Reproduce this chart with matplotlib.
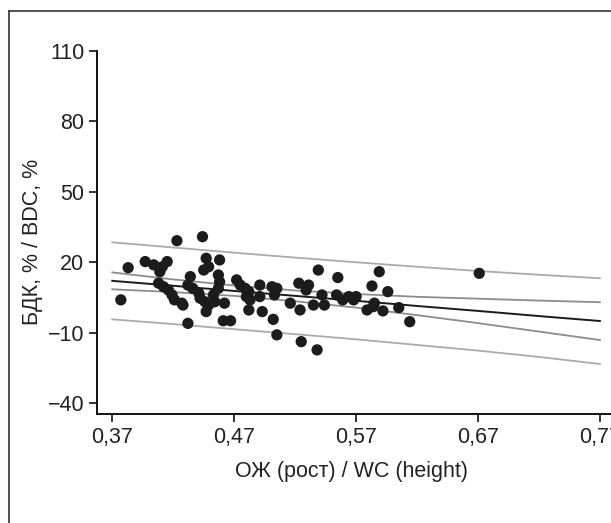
import matplotlib
matplotlib.use('Agg')
import matplotlib.pyplot as plt
from matplotlib.lines import Line2D

plt.rcParams['font.family'] = ['Liberation Sans', 'DejaVu Sans']

# scatter points
wc = [0.423, 0.444, 0.383, 0.377,
      0.397, 0.404, 0.411, 0.415, 0.409,
      0.408, 0.412, 0.416, 0.419, 0.421, 0.427, 0.428,
      0.434,
      0.432, 0.436, 0.441, 0.442, 0.446, 0.449, 0.447,
      0.447, 0.449, 0.445,
      0.458,
      0.457, 0.458, 0.457,
      0.453, 0.454, 0.462,
      0.432, 0.461, 0.467,
      0.472, 0.475, 0.479, 0.482, 0.480, 0.483,
      0.482,
      0.491, 0.491, 0.493,
      0.501, 0.505, 0.503,
      0.502, 0.505,
      0.516,
      0.523, 0.531, 0.529,
      0.524,
      0.539,
      0.535, 0.542, 0.544,
      0.525, 0.538,
      0.555,
      0.554, 0.559, 0.564, 0.570, 0.568,
      0.589, 0.583, 0.596,
      0.585, 0.584, 0.579, 0.592, 0.605, 0.614,
      0.671]
bdc = [29.1, 30.8, 17.6, 3.9,
       20.2, 18.8, 18.0, 20.2, 15.9,
       11.0, 9.5, 8.1, 6.0, 3.9, 2.5, 1.7,
       13.8,
       10.2, 8.8, 6.7, 4.6, 3.1, 1.7, -1.1,
       21.6, 18.0, 16.6,
       20.9,
       14.5, 11.6, 8.8,
       6.0, 3.1, 2.5,
       -6.1, -5.0, -5.0,
       12.4, 10.2, 8.8, 7.4, 5.3, 3.9,
       -0.4,
       10.2, 5.3, -1.1,
       9.5, 8.8, 6.0,
       -4.4, -11.0,
       2.5,
       11.0, 10.2, 8.1,
       -0.4,
       16.6,
       1.7, 6.0, 1.7,
       -13.9, -17.4,
       13.4,
       6.0, 3.9, 5.3, 5.3, 3.9,
       15.9, 9.8, 7.4,
       2.5, 1.0, -0.4, -0.8, 0.6, -5.4,
       15.2]

# fitted line, confidence and prediction bands
fit_x = [0.37, 0.42, 0.47, 0.52, 0.57, 0.62, 0.67, 0.72, 0.77]
fit_y = [12.0, 9.9, 7.7, 5.6, 3.5, 1.3, -0.8, -3.0, -5.1]
ci_hi = [15.6, 12.6, 10.0, 7.9, 6.4, 5.2, 4.4, 3.6, 2.9]
ci_lo = [8.4, 7.2, 5.6, 3.3, 0.6, -2.6, -6.0, -9.6, -13.2]
pi_hi = [28.4, 26.2, 24.0, 21.9, 19.9, 18.0, 16.2, 14.6, 13.1]
pi_lo = [-4.4, -6.4, -8.6, -10.7, -12.9, -15.3, -17.7, -20.4, -23.4]

xticks = [0.37, 0.47, 0.57, 0.67, 0.77]
xtick_labels = ['0,37', '0,47', '0,57', '0,67', '0,77']
yticks = [-40, -10, 20, 50, 80, 110]

W, H = 611, 523
fig = plt.figure(figsize=(W / 100, H / 100), dpi=100)
ax = fig.add_axes([96.7 / W, 1 - 414 / H, 1 - 96.7 / W, (414 - 50.7) / H])

ax.plot(fit_x, pi_hi, color='#aaaaaa', lw=1.3)
ax.plot(fit_x, pi_lo, color='#aaaaaa', lw=1.3)
ax.plot(fit_x, ci_hi, color='#8c8c8c', lw=1.3)
ax.plot(fit_x, ci_lo, color='#8c8c8c', lw=1.3)
ax.scatter(wc, bdc, s=66, color='#1c1c1c', edgecolors='none', zorder=3)
ax.plot(fit_x, fit_y, color='#1a1a1a', lw=1.4, zorder=4)

ax.set_xlim(0.3572, 0.37 + (W - 112.3) / 1219)
ax.set_ylim(-44.7, 110)
ax.set_xticks(xticks)
ax.set_xticklabels(xtick_labels)
ax.set_yticks(yticks)
ax.set_yticklabels([str(v).replace('-', '\u2212') for v in yticks])

for s in ['top', 'right']:
    ax.spines[s].set_visible(False)
for s in ['left', 'bottom']:
    ax.spines[s].set_linewidth(1.4)
    ax.spines[s].set_color('#111111')
ax.tick_params(length=6, width=1.2, labelsize=15.5, color='#111111', labelcolor='#222222', pad=3)

fig.text(351 / W, 1 - 472 / H, 'ОЖ (рост) / WC (height)', ha='center', va='center',
         fontsize=15.5, color='#222222')
fig.text(33 / W, 1 - 242 / H, 'БДК, % / BDC, %', ha='center', va='center',
         rotation=90, fontsize=15.5, color='#222222')

# outer frame
fig.add_artist(Line2D([8.5 / W, 8.5 / W], [0, 1 - 11 / H], transform=fig.transFigure,
                      color='#333333', lw=1.2))
fig.add_artist(Line2D([8.5 / W, 1], [1 - 11 / H, 1 - 11 / H], transform=fig.transFigure,
                      color='#333333', lw=1.2))

fig.savefig('out.png', dpi=100)
